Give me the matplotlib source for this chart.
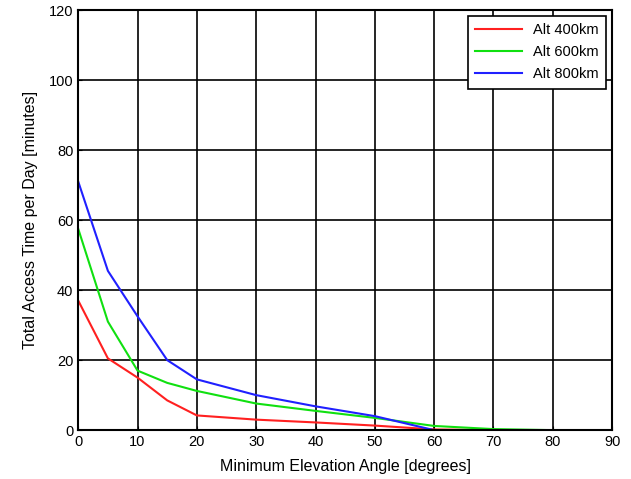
import matplotlib
matplotlib.use("Agg")
import matplotlib.pyplot as plt

plt.rcParams['font.family'] = ['Liberation Sans', 'DejaVu Sans']

angle = [0, 5, 10, 15, 20, 30, 40, 50, 60, 70, 80, 90]
alt400 = [37, 20.5, 15, 8.5, 4.2, 3.0, 2.2, 1.3, 0.2, 0, 0, 0]
alt600 = [57.5, 31, 17, 13.5, 11.2, 7.6, 5.5, 3.5, 1.2, 0.3, 0, 0]
alt800 = [71, 45.5, 32.5, 20, 14.5, 10, 6.8, 4, 0, 0, 0, 0]

fig = plt.figure(figsize=(6.31, 4.79), dpi=100)
ax = fig.add_axes([0.124, 0.102, 0.846, 0.877])

ax.plot(angle, alt400, color='#ff2020', lw=1.5, label='Alt 400km')
ax.plot(angle, alt600, color='#10e010', lw=1.5, label='Alt 600km')
ax.plot(angle, alt800, color='#2020ff', lw=1.5, label='Alt 800km')

ax.set_xlim(0, 90)
ax.set_ylim(0, 120)
ax.set_xticks(range(0, 91, 10))
ax.set_yticks(range(0, 121, 20))
ax.grid(True, color='black', lw=1.2)
ax.set_axisbelow(True)
for s in ax.spines.values():
    s.set_linewidth(1.5)
ax.tick_params(labelsize=10.5, direction='in', length=3)

ax.set_xlabel('Minimum Elevation Angle [degrees]', fontsize=11.5, labelpad=7)
ax.set_ylabel('Total Access Time per Day [minutes]', fontsize=11.5, labelpad=8)

leg = ax.legend(loc='upper right', fontsize=10.5, fancybox=False, framealpha=1,
                edgecolor='black', borderaxespad=0.4, handlelength=3.2,
                labelspacing=0.55, borderpad=0.5)
leg.get_frame().set_linewidth(1.2)

fig.savefig('out.png', dpi=100)
